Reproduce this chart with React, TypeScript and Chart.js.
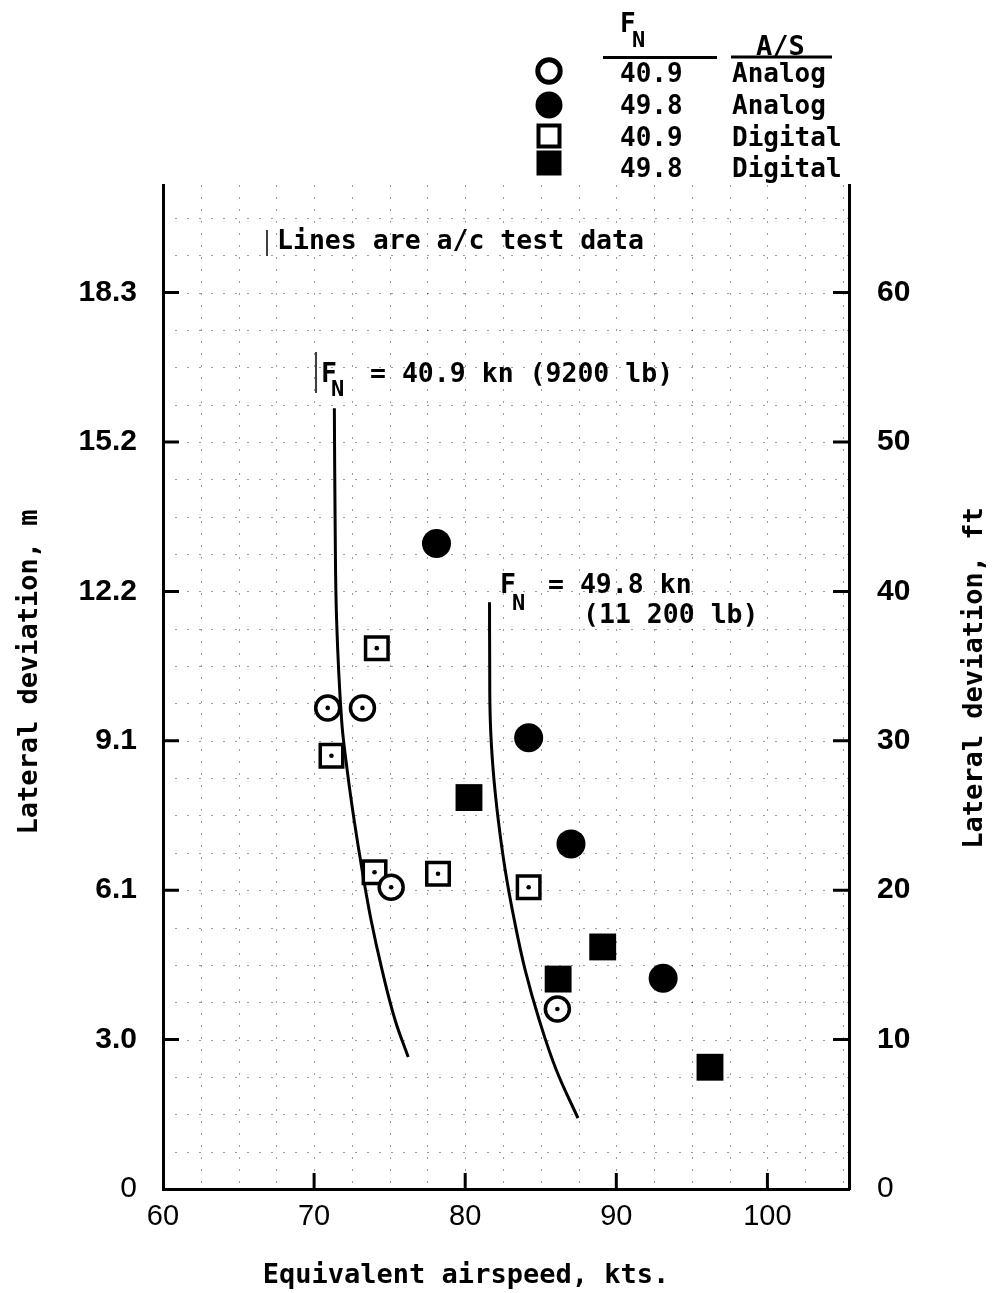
import React, { useEffect, useRef } from 'react';
import { Chart, registerables } from 'chart.js';

Chart.register(...registerables);

// ---- Axis ticks ----
const ftTicks = [0, 10, 20, 30, 40, 50, 60];
const mTickLabels = ['0', '3.0', '6.1', '9.1', '12.2', '15.2', '18.3'];
const ktTicks = [60, 70, 80, 90, 100];

// ---- Data (x: equivalent airspeed kts, y: lateral deviation ft) ----
const analog409 = [
  { x: 70.9, y: 32.2 },
  { x: 73.2, y: 32.2 },
  { x: 75.1, y: 20.2 },
  { x: 86.1, y: 12.05 },
];
const analog498 = [
  { x: 78.1, y: 43.2 },
  { x: 84.2, y: 30.2 },
  { x: 87.0, y: 23.1 },
  { x: 93.1, y: 14.1 },
];
const digital409 = [
  { x: 74.15, y: 36.2 },
  { x: 71.15, y: 29.0 },
  { x: 74.0, y: 21.2 },
  { x: 78.2, y: 21.1 },
  { x: 84.2, y: 20.2 },
];
const digital498 = [
  { x: 80.25, y: 26.2 },
  { x: 89.1, y: 16.2 },
  { x: 86.15, y: 14.05 },
  { x: 96.2, y: 8.15 },
];

// a/c test data lines
const testLine409 = [
  { x: 71.34, y: 52.26 },
  { x: 71.39, y: 44.76 },
  { x: 71.49, y: 38.07 },
  { x: 71.82, y: 31.38 },
  { x: 72.19, y: 28.04 },
  { x: 72.65, y: 24.69 },
  { x: 73.18, y: 21.34 },
  { x: 73.77, y: 18.0 },
  { x: 74.5, y: 14.65 },
  { x: 75.36, y: 11.31 },
  { x: 76.23, y: 8.83 },
];
const testLine498 = [
  { x: 81.61, y: 39.28 },
  { x: 81.62, y: 35.4 },
  { x: 81.66, y: 31.38 },
  { x: 81.85, y: 28.04 },
  { x: 82.19, y: 24.69 },
  { x: 82.65, y: 21.34 },
  { x: 83.25, y: 18.0 },
  { x: 83.97, y: 14.65 },
  { x: 84.9, y: 11.31 },
  { x: 86.03, y: 7.96 },
  { x: 87.46, y: 4.75 },
];

// ---- Legend table ----
const legendFn = ['40.9', '49.8', '40.9', '49.8'];
const legendAS = ['Analog', 'Analog', 'Digital', 'Digital'];

const MONO = '"DejaVu Sans Mono", "Liberation Mono", monospace';
const SANS = '"Liberation Sans", Arial, sans-serif';

function monoFont(size: number) {
  return `bold ${size}px ${MONO}`;
}

const decorPlugin = {
  id: 'decor',
  beforeDatasetsDraw(chart: any) {
    const { ctx, chartArea: a, scales } = chart;
    const xs = scales.x;
    const ys = scales.y;
    ctx.save();
    ctx.beginPath();
    ctx.rect(a.left, a.top, a.right - a.left, a.bottom - a.top);
    ctx.clip();
    ctx.strokeStyle = 'rgba(0,0,0,0.38)';
    ctx.lineWidth = 1;
    ctx.setLineDash([2, 10]);
    for (let v = 62.5; v < xs.max; v += 2.5) {
      const px = Math.round(xs.getPixelForValue(v)) + 0.5;
      ctx.beginPath();
      ctx.moveTo(px, a.top);
      ctx.lineTo(px, a.bottom);
      ctx.stroke();
    }
    for (let v = 2.5; v < ys.max; v += 2.5) {
      const py = Math.round(ys.getPixelForValue(v)) + 0.5;
      ctx.beginPath();
      ctx.moveTo(a.left, py);
      ctx.lineTo(a.right, py);
      ctx.stroke();
    }
    ctx.restore();
  },
  afterDatasetsDraw(chart: any) {
    const { ctx } = chart;
    ctx.save();
    ctx.fillStyle = '#000';
    chart.data.datasets.forEach((ds: any, i: number) => {
      if (!ds.centerDot) return;
      const meta = chart.getDatasetMeta(i);
      meta.data.forEach((el: any) => {
        ctx.beginPath();
        ctx.arc(el.x, el.y, 2.3, 0, Math.PI * 2);
        ctx.fill();
      });
    });
    ctx.restore();
  },
  afterDraw(chart: any) {
    const { ctx, chartArea: a, scales } = chart;
    const xs = scales.x;
    const ys = scales.y;
    ctx.save();
    ctx.strokeStyle = '#000';
    ctx.fillStyle = '#000';
    ctx.setLineDash([]);

    // inward tick marks
    const tl = 16;
    ctx.lineWidth = 3;
    ftTicks.forEach((v) => {
      if (v === 0) return;
      const py = ys.getPixelForValue(v);
      ctx.beginPath();
      ctx.moveTo(a.left, py);
      ctx.lineTo(a.left + tl, py);
      ctx.moveTo(a.right, py);
      ctx.lineTo(a.right - tl, py);
      ctx.stroke();
    });
    ktTicks.forEach((v) => {
      if (v === 60) return;
      const px = xs.getPixelForValue(v);
      ctx.beginPath();
      ctx.moveTo(px, a.bottom);
      ctx.lineTo(px, a.bottom - tl);
      ctx.stroke();
    });

    // ---- Legend ----
    const lx = 549;
    const markerY = [71, 105, 136, 163];
    // open circle
    ctx.lineWidth = 5;
    ctx.fillStyle = '#fff';
    ctx.beginPath();
    ctx.arc(lx, markerY[0], 11.2, 0, Math.PI * 2);
    ctx.fill();
    ctx.stroke();
    ctx.fillStyle = '#000';
    // filled circle
    ctx.beginPath();
    ctx.arc(lx, markerY[1], 13.5, 0, Math.PI * 2);
    ctx.fill();
    // open square
    ctx.lineWidth = 4;
    ctx.fillStyle = '#fff';
    ctx.fillRect(lx - 10.5, markerY[2] - 10.5, 21, 21);
    ctx.strokeRect(lx - 10.5, markerY[2] - 10.5, 21, 21);
    ctx.fillStyle = '#000';
    // filled square
    ctx.fillRect(lx - 12.5, markerY[3] - 12.5, 25, 25);

    ctx.textBaseline = 'alphabetic';
    ctx.textAlign = 'left';
    // headers
    ctx.font = monoFont(26);
    ctx.fillText('F', 620, 32);
    ctx.font = monoFont(22);
    ctx.fillText('N', 632, 47);
    ctx.font = monoFont(27);
    ctx.fillText('A/S', 756, 55);
    ctx.lineWidth = 3;
    ctx.beginPath();
    ctx.moveTo(603, 57.5);
    ctx.lineTo(717, 57.5);
    ctx.moveTo(731, 57);
    ctx.lineTo(832, 57);
    ctx.stroke();
    const rowBase = [82, 114, 146, 177];
    ctx.font = monoFont(26);
    legendFn.forEach((t, i) => ctx.fillText(t, 620, rowBase[i]));
    legendAS.forEach((t, i) => ctx.fillText(t, 732, rowBase[i]));

    // ---- Annotations ----
    ctx.lineWidth = 1.5;
    ctx.beginPath();
    ctx.moveTo(267, 230);
    ctx.lineTo(267, 256);
    ctx.moveTo(316, 352);
    ctx.lineTo(316, 393);
    ctx.stroke();

    ctx.font = monoFont(26.5);
    ctx.fillText('Lines are a/c test data', 277, 249);

    ctx.fillText('F', 321, 382);
    ctx.fillText('= 40.9 kn (9200 lb)', 370, 382);
    ctx.font = monoFont(22);
    ctx.fillText('N', 331, 396);

    ctx.font = monoFont(26.5);
    ctx.fillText('F', 500, 593);
    ctx.fillText('= 49.8 kn', 548, 593);
    ctx.fillText('(11 200 lb)', 583, 623);
    ctx.font = monoFont(22);
    ctx.fillText('N', 512, 610);

    // ---- Axis titles ----
    ctx.font = monoFont(27);
    ctx.textAlign = 'center';
    ctx.textBaseline = 'middle';
    ctx.fillText('Equivalent airspeed, kts.', 466, 1276);

    ctx.save();
    ctx.translate(30, 672);
    ctx.rotate(-Math.PI / 2);
    ctx.fillText('Lateral deviation, m', 0, 0);
    ctx.restore();

    ctx.save();
    ctx.translate(975, 678);
    ctx.rotate(-Math.PI / 2);
    ctx.fillText('Lateral deviation, ft', 0, 0);
    ctx.restore();

    ctx.restore();
  },
};

function tickFont(c: any) {
  const v = c && c.tick ? c.tick.value : null;
  return { family: SANS, size: 30, weight: v === 0 ? 'normal' : 'bold' } as any;
}

export default function App() {
  const ref = useRef<HTMLCanvasElement | null>(null);

  useEffect(() => {
    document.body.style.margin = '0';
    document.body.style.background = '#fff';
    if (!ref.current) return;
    const chart = new Chart(ref.current, {
      type: 'scatter',
      data: {
        datasets: [
          {
            label: '40.9 Analog',
            data: analog409,
            pointStyle: 'circle',
            pointRadius: 12,
            pointBackgroundColor: '#fff',
            pointBorderColor: '#000',
            pointBorderWidth: 3.5,
            order: 1,
            centerDot: true,
          } as any,
          {
            label: '49.8 Analog',
            data: analog498,
            pointStyle: 'circle',
            pointRadius: 14.5,
            pointBackgroundColor: '#000',
            pointBorderColor: '#000',
            pointBorderWidth: 0,
            order: 1,
          },
          {
            label: '40.9 Digital',
            data: digital409,
            pointStyle: 'rect',
            pointRadius: 15.9,
            pointBackgroundColor: '#fff',
            pointBorderColor: '#000',
            pointBorderWidth: 3.5,
            order: 1,
            centerDot: true,
          } as any,
          {
            label: '49.8 Digital',
            data: digital498,
            pointStyle: 'rect',
            pointRadius: 19,
            pointBackgroundColor: '#000',
            pointBorderColor: '#000',
            pointBorderWidth: 0,
            order: 1,
          },
          {
            label: 'FN = 40.9 kn test',
            data: testLine409,
            showLine: true,
            pointRadius: 0,
            borderColor: '#000',
            borderWidth: 3,
            tension: 0.4,
            fill: false,
            order: 10,
          },
          {
            label: 'FN = 49.8 kn test',
            data: testLine498,
            showLine: true,
            pointRadius: 0,
            borderColor: '#000',
            borderWidth: 3,
            tension: 0.4,
            fill: false,
            order: 10,
          },
        ],
      },
      options: {
        responsive: false,
        animation: false,
        devicePixelRatio: 1,
        layout: { padding: { top: 185, left: 0, right: 0, bottom: 0 } },
        plugins: {
          legend: { display: false },
          tooltip: { enabled: false },
          title: { display: false },
        },
        events: [],
        scales: {
          x: {
            type: 'linear',
            position: 'bottom',
            min: 60,
            max: 105.4,
            afterBuildTicks: (s: any) => {
              s.ticks = ktTicks.map((v) => ({ value: v }));
            },
            afterFit: (s: any) => {
              s.height = 104;
            },
            grid: { display: false, drawTicks: false },
            border: { display: true, color: '#000', width: 3 },
            ticks: {
              padding: 11,
              color: '#000',
              autoSkip: false,
              maxRotation: 0,
              font: { family: SANS, size: 29 },
              callback: (v: any) => String(v),
            },
          },
          y: {
            type: 'linear',
            position: 'left',
            min: 0,
            max: 67.2,
            afterBuildTicks: (s: any) => {
              s.ticks = ftTicks.map((v) => ({ value: v }));
            },
            afterFit: (s: any) => {
              s.width = 163;
            },
            grid: { display: false, drawTicks: false },
            border: { display: true, color: '#000', width: 3 },
            ticks: {
              padding: 26,
              color: '#000',
              autoSkip: false,
              font: tickFont,
              callback: (v: any) => mTickLabels[ftTicks.indexOf(Number(v))],
            },
          },
          y2: {
            type: 'linear',
            position: 'right',
            min: 0,
            max: 67.2,
            afterBuildTicks: (s: any) => {
              s.ticks = ftTicks.map((v) => ({ value: v }));
            },
            afterFit: (s: any) => {
              s.width = 146;
            },
            grid: { display: false, drawTicks: false },
            border: { display: true, color: '#000', width: 3 },
            ticks: {
              padding: 28,
              color: '#000',
              autoSkip: false,
              font: tickFont,
              callback: (v: any) => String(v),
            },
          },
        },
      } as any,
      plugins: [decorPlugin as any],
    });
    return () => chart.destroy();
  }, []);

  return (
    <canvas
      ref={ref}
      width={995}
      height={1293}
      style={{ display: 'block', width: 995, height: 1293 }}
    />
  );
}
